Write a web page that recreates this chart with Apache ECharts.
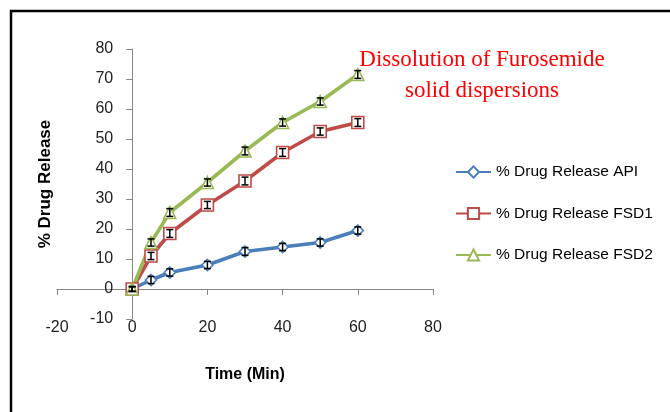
<!DOCTYPE html>
<html>
<head>
<meta charset="utf-8">
<script src="https://cdn.jsdelivr.net/npm/echarts@6/dist/echarts.min.js"></script>
<style>
  html, body { margin: 0; padding: 0; background: #fff; }
  #chart { width: 670px; height: 412px; }
</style>
</head>
<body>
<div id="chart"></div>
<script>
// Sampling times (min)
const timeMin = [0, 5, 10, 20, 30, 40, 50, 60];

// Cumulative % drug release for each formulation
const releaseAPI  = [0, 3, 5.5, 8, 12.5, 14, 15.5, 19.5];
const releaseFSD1 = [0, 11, 18.5, 28, 36, 45.5, 52.5, 55.5];
const releaseFSD2 = [0, 15.5, 25.5, 35.5, 46, 55.5, 62.5, 71.5];

// Standard deviation of each mean
const errAPI  = [0.8, 1.2, 1.2, 1.2, 1.3, 1.2, 1.2, 1.2];
const errFSD1 = [0.8, 1.2, 1.3, 1.2, 1.3, 1.3, 1.2, 1.3];
const errFSD2 = [0.8, 1.2, 1.3, 1.2, 1.3, 1.2, 1.2, 1.3];

const seriesNames = ['% Drug Release API', '% Drug Release FSD1', '% Drug Release FSD2'];
const xTicks = { min: -20, max: 80, step: 20 };
const yTicks = { min: -10, max: 80, step: 10 };

const axisGrey = '#868686';
const labelFont = 'Liberation Sans';

// plot box
const gridLeft = 57, gridRight = 237;
const plotWidth = 670 - gridLeft - gridRight;
// the value axis crosses the time axis at t = 0
const yAxisShift = plotWidth * (0 - xTicks.min) / (xTicks.max - xTicks.min);

function pairs(ys) { return timeMin.map((t, i) => [t, ys[i]]); }
function triples(ys, es) { return timeMin.map((t, i) => [t, ys[i], es[i]]); }

function lineSeries(name, ys, color, symbol, size) {
  return {
    name, type: 'line', data: pairs(ys),
    symbol, symbolSize: size,
    lineStyle: { color, width: 3.6 },
    itemStyle: { color: '#fff', borderColor: color, borderWidth: 1.6 },
    emphasis: { disabled: true },
    z: 3
  };
}

function errorSeries(ys, es) {
  return {
    type: 'custom',
    data: triples(ys, es),
    encode: { x: 0, y: 1 },
    z: 5,
    silent: true,
    renderItem(params, api) {
      const x = api.value(0), y = api.value(1), e = api.value(2);
      const hi = api.coord([x, y + e]);
      const lo = api.coord([x, y - e]);
      const w = 3.5;
      const st = { stroke: '#000', lineWidth: 1.5 };
      return {
        type: 'group',
        children: [
          { type: 'line', shape: { x1: hi[0], y1: hi[1], x2: lo[0], y2: lo[1] }, style: st },
          { type: 'line', shape: { x1: hi[0] - w, y1: hi[1], x2: hi[0] + w, y2: hi[1] }, style: st },
          { type: 'line', shape: { x1: lo[0] - w, y1: lo[1], x2: lo[0] + w, y2: lo[1] }, style: st }
        ]
      };
    }
  };
}

const chart = echarts.init(document.getElementById('chart'), null, { renderer: 'canvas' });

chart.setOption({
  animation: false,
  backgroundColor: '#fff',
  grid: { left: gridLeft, right: gridRight, top: 49, bottom: 93, containLabel: false, outerBoundsMode: 'none' },
  legend: {
    data: seriesNames,
    orient: 'vertical',
    left: 450, top: 159,
    itemWidth: 35, itemHeight: 14,
    itemGap: 25.5,
    textStyle: { fontFamily: labelFont, fontSize: 15.5, color: '#000', lineHeight: 16 },
    selectedMode: false
  },
  xAxis: [
    {
      type: 'value', min: xTicks.min, max: xTicks.max, interval: xTicks.step,
      axisLine: { show: true, onZero: true, lineStyle: { color: axisGrey, width: 1 } },
      axisTick: { show: true, inside: false, length: 6, lineStyle: { color: axisGrey } },
      axisLabel: { show: false },
      splitLine: { show: false }
    },
    {
      type: 'value', min: xTicks.min, max: xTicks.max, interval: xTicks.step,
      position: 'bottom',
      axisLine: { show: false, onZero: false },
      axisTick: { show: false },
      axisLabel: { show: true, margin: 1, fontFamily: labelFont, fontSize: 16, color: '#222' },
      splitLine: { show: false },
      name: 'Time (Min)', nameLocation: 'middle', nameGap: 48,
      nameTextStyle: { fontFamily: labelFont, fontSize: 16, fontWeight: 'bold', color: '#000' }
    }
  ],
  yAxis: {
    type: 'value', min: yTicks.min, max: yTicks.max, interval: yTicks.step,
    position: 'left',
    offset: -yAxisShift,
    axisLine: { show: true, onZero: false, lineStyle: { color: axisGrey, width: 1 } },
    axisTick: { show: true, inside: false, length: 6, lineStyle: { color: axisGrey } },
    axisLabel: { margin: 19, fontFamily: labelFont, fontSize: 16, color: '#222' },
    splitLine: { show: false },
    name: '% Drug Release', nameLocation: 'middle', nameGap: 78,
    nameTextStyle: { fontFamily: labelFont, fontSize: 17, fontWeight: 'bold', color: '#000' }
  },
  series: [
    lineSeries(seriesNames[0], releaseAPI, '#4a7ebb', 'diamond', 11),
    lineSeries(seriesNames[1], releaseFSD1, '#be4b48', 'rect', 12),
    lineSeries(seriesNames[2], releaseFSD2, '#98b954', 'triangle', 12),
    errorSeries(releaseAPI, errAPI),
    errorSeries(releaseFSD1, errFSD1),
    errorSeries(releaseFSD2, errFSD2)
  ],
  graphic: [
    {
      type: 'rect', silent: true,
      shape: { x: 11, y: 11, width: 720, height: 460 },
      style: { fill: 'none', stroke: '#000', lineWidth: 2.5 }
    },
    {
      type: 'text', silent: true,
      style: {
        x: 482, y: 44,
        text: 'Dissolution of Furosemide\nsolid dispersions',
        font: '23px "Liberation Serif"',
        fill: '#ff0000',
        textAlign: 'center', textVerticalAlign: 'top',
        lineHeight: 31
      }
    }
  ]
});
</script>
</body>
</html>
